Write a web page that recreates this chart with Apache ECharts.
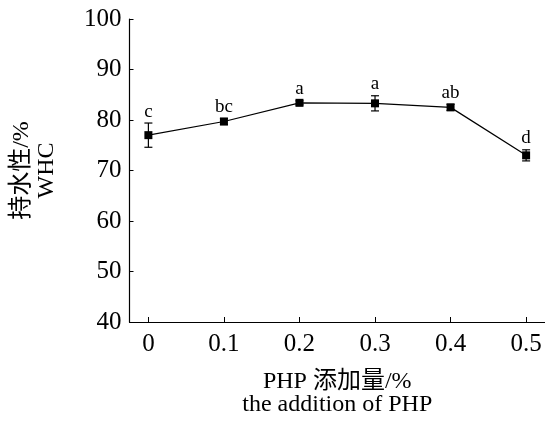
<!DOCTYPE html>
<html><head><meta charset="utf-8">
<script src="https://cdn.jsdelivr.net/npm/echarts@6/dist/echarts.min.js"></script>
<style>html,body{margin:0;padding:0;background:#fff}#c{width:545px;height:421px}</style>
</head><body><div id="c"></div>
<script>
const xValues = [0, 0.1, 0.2, 0.3, 0.4, 0.5];
const xTickLabels = ['0', '0.1', '0.2', '0.3', '0.4', '0.5'];
const whcMean = [77.0, 79.7, 83.4, 83.3, 82.5, 73.0];
const whcErr = [2.4, 0.6, 0.4, 1.5, 0.6, 1.1];
const sigLetters = ['c', 'bc', 'a', 'a', 'ab', 'd'];
const yMin = 40, yMax = 100, yStep = 10;
const xName = 'PHP 添加量/%\nthe addition of PHP';
const yName = '持水性/%\nWHC';

const FONT = '"Liberation Serif", "Times New Roman", "Noto Sans CJK SC", serif';
const chart = echarts.init(document.getElementById('c'), null, {renderer: 'canvas'});

const lineData = xValues.map((x, i) => [x, whcMean[i]]);
const errData = xValues.map((x, i) => [x, whcMean[i], whcErr[i], i]);

chart.setOption({
  animation: false,
  backgroundColor: '#fff',
  grid: {left: 129.5, right: 0, top: 19, bottom: 99, outerBoundsMode: 'none'},
  xAxis: {
    type: 'value', min: -0.025, max: 0.525,
    name: xName, nameLocation: 'middle', nameGap: 48,
    nameTextStyle: {fontFamily: FONT, fontSize: 24, color: '#000', lineHeight: 23},
    axisLine: {show: true, onZero: false, lineStyle: {color: '#000', width: 1.2}},
    axisTick: {show: true, inside: true, length: 5, customValues: xValues, lineStyle: {color: '#000', width: 1}},
    axisLabel: {
      customValues: xValues, margin: 10, color: '#000', fontFamily: FONT, fontSize: 25,
      formatter: v => { const i = xValues.findIndex(x => Math.abs(x - v) < 1e-9); return i >= 0 ? xTickLabels[i] : ''; }
    },
    splitLine: {show: false}
  },
  yAxis: {
    type: 'value', min: yMin, max: yMax, interval: yStep,
    name: yName, nameLocation: 'middle', nameRotate: 90, nameGap: 70,
    nameTextStyle: {fontFamily: FONT, fontSize: 24, color: '#000', lineHeight: 25},
    axisLine: {show: true, onZero: false, lineStyle: {color: '#000', width: 1.2}},
    axisTick: {show: true, inside: true, length: 4, lineStyle: {color: '#000', width: 1}},
    axisLabel: {margin: 8, color: '#000', fontFamily: FONT, fontSize: 25},
    splitLine: {show: false}
  },
  series: [
    {
      type: 'line', data: lineData, symbol: 'rect', symbolSize: 8,
      lineStyle: {color: '#000', width: 1.2}, itemStyle: {color: '#000'}, z: 3
    },
    {
      type: 'custom', data: errData, z: 4,
      renderItem: function (params, api) {
        const x = api.value(0), m = api.value(1), e = api.value(2), idx = api.value(3);
        const top = api.coord([x, m + e]);
        const bot = api.coord([x, m - e]);
        const cap = 4;
        const style = {stroke: '#000', lineWidth: 1.2};
        return {
          type: 'group',
          children: [
            {type: 'line', shape: {x1: top[0], y1: top[1], x2: bot[0], y2: bot[1]}, style},
            {type: 'line', shape: {x1: top[0] - cap, y1: top[1], x2: top[0] + cap, y2: top[1]}, style},
            {type: 'line', shape: {x1: bot[0] - cap, y1: bot[1], x2: bot[0] + cap, y2: bot[1]}, style},
            {type: 'text', style: {text: sigLetters[idx], x: top[0], y: top[1] - 2, align: 'center', verticalAlign: 'bottom',
              fill: '#000', font: '19px ' + FONT}}
          ]
        };
      }
    }
  ]
});
</script></body></html>
